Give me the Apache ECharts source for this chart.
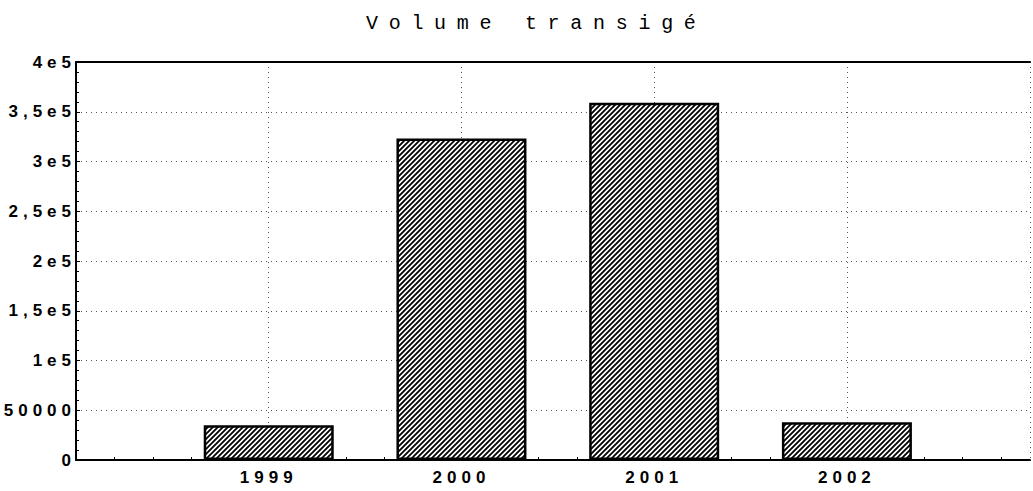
<!DOCTYPE html>
<html lang="fr">
<head>
    <meta charset="UTF-8">
    <title>Volume transigé</title>
    <script src="https://cdn.jsdelivr.net/npm/echarts@6/dist/echarts.min.js"></script>
    <style>
        html, body { margin: 0; padding: 0; background: #fff; }
        /* the old printout spaces its letters out */
        #main text { letter-spacing: 5px; }
        #main text[style*="Mono"] { letter-spacing: 10.7px; }
    </style>
</head>
<body>
<div id="main" style="width: 1033px;height:491px;"></div>
<script type="text/javascript">
    // données
    var years = [1999, 2000, 2001, 2002];
    var volumes = [35000, 323000, 359000, 38000];
    var yLabels = ["0", "50000", "1e5", "1,5e5", "2e5", "2,5e5", "3e5", "3,5e5", "4e5"];
    var yStep = 50000;

    // motif hachuré des barres
    function hatch() {
        var c = document.createElement("canvas");
        c.width = 5;
        c.height = 5;
        var ctx = c.getContext("2d");
        ctx.fillStyle = "#fff";
        ctx.fillRect(0, 0, 5, 5);
        ctx.strokeStyle = "#000";
        ctx.lineWidth = 1.8;
        ctx.beginPath();
        ctx.moveTo(-1, 6); ctx.lineTo(6, -1);
        ctx.moveTo(-1, 1); ctx.lineTo(1, -1);
        ctx.moveTo(4, 6); ctx.lineTo(6, 4);
        ctx.stroke();
        return c;
    }

    var myChart = echarts.init(document.getElementById("main"), null, {renderer: "svg"});

    var dotted = {color: "#555", width: 1, type: [1, 4]};
    var labelFont = {color: "#000", fontFamily: "Liberation Sans", fontSize: 17, fontWeight: "bold"};

    var option = {
        backgroundColor: "#fff",
        animation: false,
        title: {
            text: "Volume transigé",
            left: 361,
            top: 8,
            textStyle: {fontFamily: "Liberation Mono", fontSize: 20, fontWeight: "normal", color: "#000"}
        },
        grid: {left: 76, top: 62, right: 0, bottom: 31},
        xAxis: [
            {
                type: "value",
                min: 1998,
                max: 2002.95,
                interval: 1,
                axisLine: {lineStyle: {color: "#000", width: 2}},
                axisTick: {show: false, inside: true},
                minorTick: {show: true, splitNumber: 5, length: 3, lineStyle: {color: "#000"}},
                axisLabel: Object.assign({
                    margin: 9,
                    formatter: function (v) {
                        return years.indexOf(v) >= 0 ? String(v) : "";
                    }
                }, labelFont),
                splitLine: {show: true, lineStyle: dotted}
            },
            {
                type: "value",
                position: "top",
                min: 1998,
                max: 2002.95,
                axisLine: {show: true, lineStyle: {color: "#000", width: 2}},
                axisTick: {show: false},
                axisLabel: {show: false},
                splitLine: {show: false}
            }
        ],
        yAxis: {
            type: "value",
            min: 0,
            max: 400000,
            interval: yStep,
            axisLine: {show: true, lineStyle: {color: "#000", width: 2}},
            axisTick: {show: true, inside: true, length: 4, lineStyle: {color: "#000"}},
            minorTick: {show: true, splitNumber: 5, length: 3, lineStyle: {color: "#000"}},
            axisLabel: Object.assign({
                margin: 0,
                formatter: function (v) {
                    return yLabels[Math.round(v / yStep)];
                }
            }, labelFont),
            splitLine: {show: true, lineStyle: dotted}
        },
        series: [
            {
                type: "bar",
                barWidth: 130,
                itemStyle: {
                    color: {image: hatch(), repeat: "repeat"},
                    borderColor: "#000",
                    borderWidth: 2.5
                },
                data: years.map(function (y, i) { return [y, volumes[i]]; })
            }
        ]
    };

    myChart.setOption(option);
</script>
</body>
</html>
